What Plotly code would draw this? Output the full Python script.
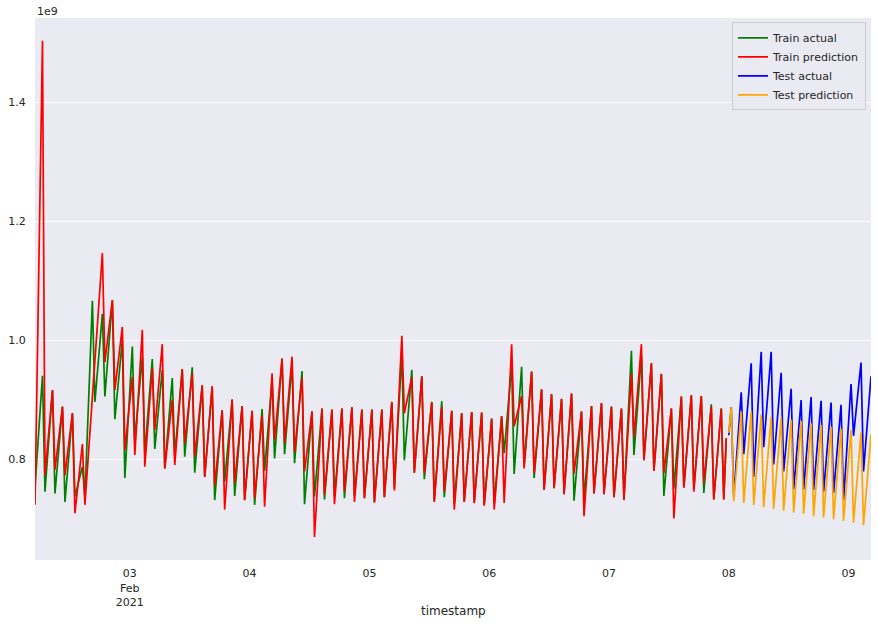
import pandas as pd
import plotly.graph_objects as go

# ---- data (values in units of 1e9) ----
start_time = "2021-02-02 05:00"   # first trough; a trough every 2h, peak 1.5h after each trough
train_end_time = "2021-02-07 23:30"
test_start_time = "2021-02-08 00:00"
end_time = "2021-02-09 04:30"

train_actual_troughs = [0.753, 0.745, 0.742, 0.728, 0.737, 0.735, 0.896, 0.905, 0.867, 0.768,
                        0.832, 0.810, 0.817, 0.784, 0.806, 0.804, 0.777, 0.770, 0.731, 0.762,
                        0.738, 0.731, 0.723, 0.780, 0.801, 0.808, 0.793, 0.724, 0.737, 0.732,
                        0.737, 0.734, 0.737, 0.734, 0.727, 0.736, 0.750, 0.798, 0.777, 0.766,
                        0.730, 0.736, 0.725, 0.728, 0.726, 0.722, 0.725, 0.810, 0.775, 0.790,
                        0.768, 0.748, 0.751, 0.741, 0.730, 0.732, 0.742, 0.741, 0.736, 0.731,
                        0.807, 0.798, 0.780, 0.738, 0.750, 0.752, 0.750, 0.743, 0.732, 0.732]
train_actual_peaks = [0.940, 0.916, 0.888, 0.877, 0.787, 1.066, 1.044, 1.067, 1.000, 0.989,
                      0.972, 0.968, 0.950, 0.936, 0.951, 0.954, 0.924, 0.922, 0.882, 0.900,
                      0.889, 0.881, 0.884, 0.933, 0.969, 0.961, 0.948, 0.880, 0.885, 0.883,
                      0.885, 0.887, 0.883, 0.883, 0.883, 0.896, 0.978, 0.950, 0.939, 0.896,
                      0.897, 0.881, 0.877, 0.879, 0.878, 0.868, 0.872, 0.958, 0.955, 0.947,
                      0.917, 0.909, 0.901, 0.910, 0.880, 0.889, 0.894, 0.888, 0.885, 0.982,
                      0.975, 0.961, 0.943, 0.885, 0.905, 0.907, 0.906, 0.892, 0.885]
train_pred_troughs = [0.723, 0.773, 0.782, 0.773, 0.709, 0.723, 0.970, 0.963, 0.916, 0.815,
                      0.807, 0.787, 0.849, 0.784, 0.790, 0.827, 0.804, 0.770, 0.756, 0.715,
                      0.760, 0.731, 0.734, 0.720, 0.832, 0.827, 0.812, 0.779, 0.669, 0.740,
                      0.724, 0.745, 0.728, 0.734, 0.727, 0.736, 0.747, 0.877, 0.777, 0.776,
                      0.728, 0.745, 0.715, 0.728, 0.726, 0.722, 0.715, 0.726, 0.855, 0.784,
                      0.776, 0.748, 0.751, 0.741, 0.776, 0.704, 0.742, 0.741, 0.736, 0.731,
                      0.837, 0.798, 0.780, 0.776, 0.700, 0.752, 0.745, 0.760, 0.732, 0.732]
train_pred_peaks = [1.503, 0.916, 0.888, 0.877, 0.825, 0.900, 1.146, 1.067, 1.022, 0.938,
                    1.017, 0.953, 0.993, 0.900, 0.951, 0.944, 0.924, 0.922, 0.882, 0.900,
                    0.889, 0.881, 0.874, 0.944, 0.969, 0.972, 0.937, 0.880, 0.885, 0.883,
                    0.885, 0.887, 0.883, 0.883, 0.883, 0.896, 1.007, 0.937, 0.939, 0.896,
                    0.888, 0.881, 0.877, 0.879, 0.878, 0.868, 0.872, 0.993, 0.906, 0.947,
                    0.917, 0.909, 0.901, 0.910, 0.880, 0.889, 0.894, 0.888, 0.885, 0.944,
                    0.993, 0.961, 0.943, 0.885, 0.905, 0.907, 0.906, 0.888, 0.885]
train_actual_last = 0.835
train_pred_last = 0.835

test_actual_first = 0.840
test_pred_first = 0.844
# test cycles: peak 69, then (trough, peak) for cycles 70..83
test_actual_peaks = [0.887, 0.912, 0.961, 0.980, 0.980, 0.945, 0.918, 0.899, 0.904, 0.898,
                     0.895, 0.891, 0.926, 0.962, 0.939]
test_actual_troughs = [0.737, 0.808, 0.770, 0.820, 0.791, 0.779, 0.749, 0.749, 0.748, 0.745,
                       0.743, 0.731, 0.839, 0.779]
test_pred_peaks = [0.887, 0.880, 0.880, 0.875, 0.871, 0.870, 0.866, 0.864, 0.860, 0.857,
                   0.854, 0.851, 0.849, 0.845, 0.841]
test_pred_troughs = [0.729, 0.726, 0.723, 0.719, 0.716, 0.713, 0.710, 0.708, 0.704, 0.702,
                     0.699, 0.696, 0.693, 0.689]

tick_days = ["2021-02-03", "2021-02-04", "2021-02-05", "2021-02-06",
             "2021-02-07", "2021-02-08", "2021-02-09"]
tick_labels = ["03<br>Feb<br>2021", "04", "05", "06", "07", "08", "09"]
y_ticks = [0.8, 1.0, 1.2, 1.4]

# ---- build series ----
t0 = pd.Timestamp(start_time)
step = pd.Timedelta(hours=2)
rise = pd.Timedelta(hours=1.5)


def train_series(troughs, peaks, last):
    xs, ys = [], []
    for k, tv in enumerate(troughs):
        xs.append(t0 + k * step)
        ys.append(tv)
        if k < len(peaks):
            xs.append(t0 + k * step + rise)
            ys.append(peaks[k])
    xs.append(pd.Timestamp(train_end_time))
    ys.append(last)
    return xs, ys


def test_series(first, peaks, troughs):
    k0 = len(train_actual_troughs) - 1  # cycle of first test peak
    xs = [pd.Timestamp(test_start_time), t0 + k0 * step + rise]
    ys = [first, peaks[0]]
    for j, tv in enumerate(troughs):
        k = k0 + 1 + j
        xs.append(t0 + k * step)
        ys.append(tv)
        xs.append(t0 + k * step + rise)
        ys.append(peaks[j + 1])
    return xs, ys


xa, ya = train_series(train_actual_troughs, train_actual_peaks, train_actual_last)
xp, yp = train_series(train_pred_troughs, train_pred_peaks, train_pred_last)
xta, yta = test_series(test_actual_first, test_actual_peaks, test_actual_troughs)
xtp, ytp = test_series(test_pred_first, test_pred_peaks, test_pred_troughs)

fig = go.Figure()
lw = 1.7
fig.add_trace(go.Scatter(x=xa, y=ya, mode="lines", name="Train actual", line=dict(color="green", width=lw)))
fig.add_trace(go.Scatter(x=xp, y=yp, mode="lines", name="Train prediction", line=dict(color="red", width=lw)))
fig.add_trace(go.Scatter(x=xta, y=yta, mode="lines", name="Test actual", line=dict(color="blue", width=lw)))
fig.add_trace(go.Scatter(x=xtp, y=ytp, mode="lines", name="Test prediction", line=dict(color="orange", width=lw)))

font_family = "DejaVu Sans"
txt = "#262626"
fig.update_layout(
    width=878, height=626,
    margin=dict(l=35, r=7, t=18, b=66),
    paper_bgcolor="white",
    plot_bgcolor="#EAEAF2",
    font=dict(family=font_family, size=11, color=txt),
    showlegend=True,
    legend=dict(x=0.994, y=0.992, xanchor="right", yanchor="top",
                bgcolor="rgba(234,234,242,0.8)", bordercolor="#CCCCCC", borderwidth=1,
                font=dict(size=11, color=txt), tracegroupgap=0),
    xaxis=dict(
        type="date",
        range=[start_time, end_time],
        tickvals=tick_days, ticktext=tick_labels,
        showgrid=False, zeroline=False, showline=False,
        ticks="outside", ticklen=3, tickcolor="rgba(0,0,0,0)",
        tickfont=dict(size=11),
        automargin=False,
    ),
    yaxis=dict(
        range=[0.6303, 1.5412],
        tickvals=y_ticks, tickformat=".1f",
        showgrid=True, gridcolor="white", gridwidth=1,
        zeroline=False, showline=False,
        ticks="outside", ticklen=6, tickcolor="rgba(0,0,0,0)",
        tickfont=dict(size=11),
        automargin=False,
    ),
    annotations=[
        dict(text="1e9", xref="paper", yref="paper", x=0, y=1,
             xanchor="left", yanchor="bottom", showarrow=False,
             font=dict(size=11, color=txt), yshift=-2),
        dict(text="timestamp", xref="paper", yref="paper", x=0.5, y=0,
             xanchor="center", yanchor="middle", showarrow=False,
             font=dict(size=12, color=txt), yshift=-51),
    ],
)

fig.write_html("out.html")
